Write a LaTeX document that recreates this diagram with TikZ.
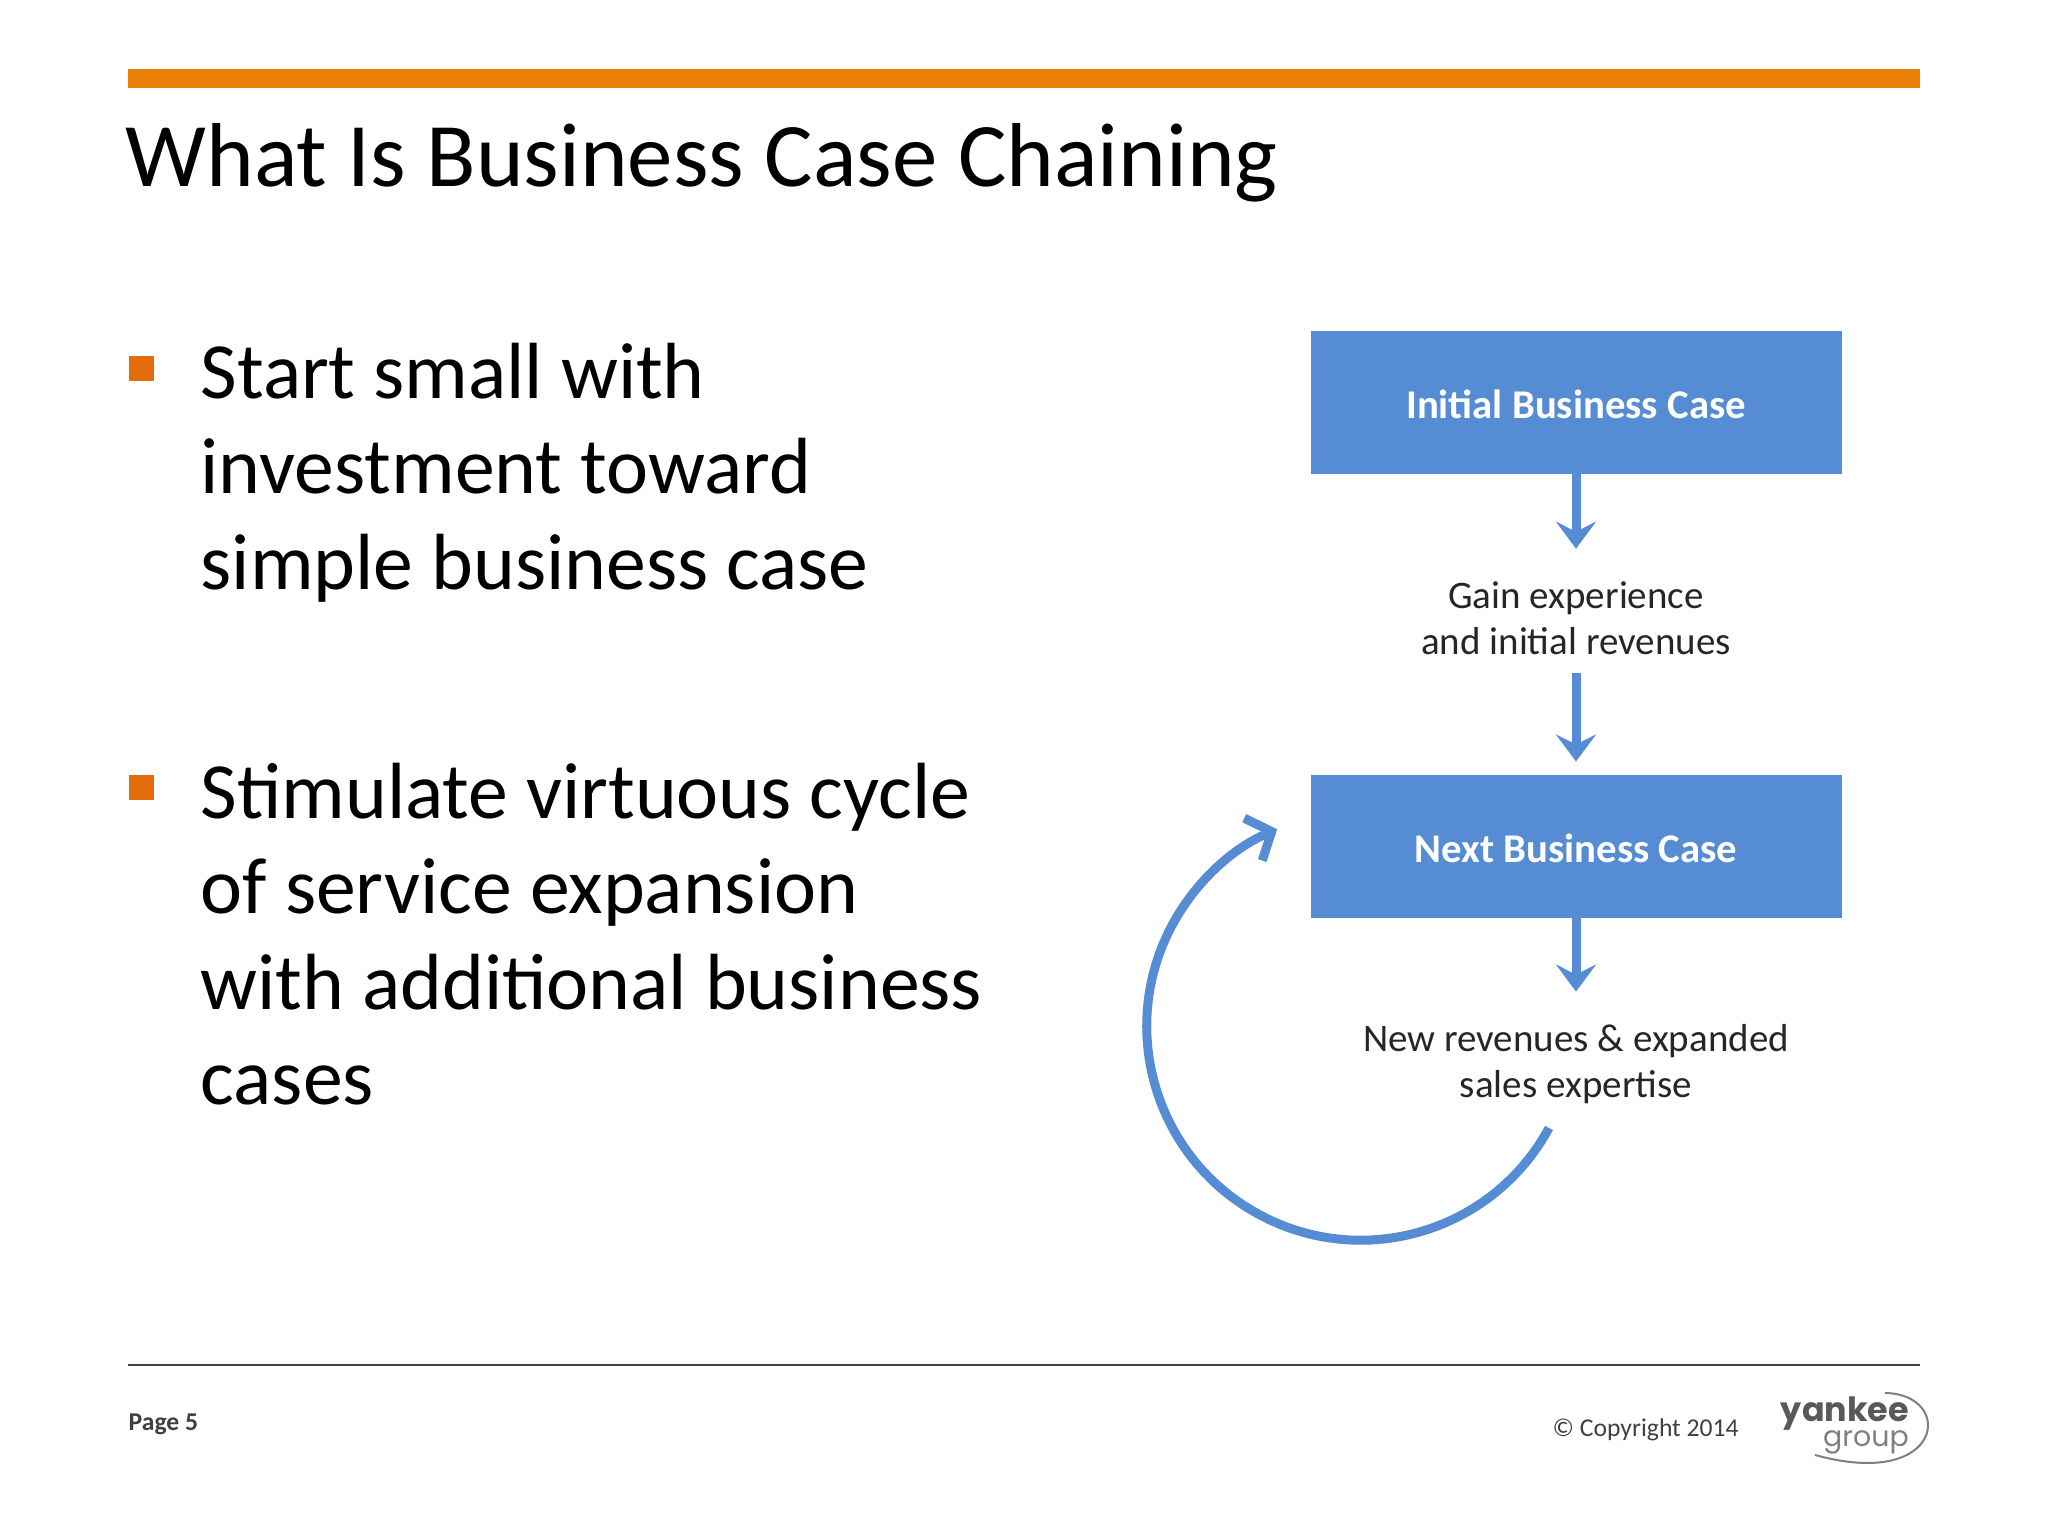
\documentclass[tikz,border=0pt]{standalone}
\usepackage{fontspec}
\setmainfont{Carlito}
\newfontfamily\logofont{Poppins}
\usetikzlibrary{arrows.meta}
\definecolor{barorange}{HTML}{EB7F05}
\definecolor{bulletorange}{HTML}{E36C0A}
\definecolor{caseblue}{HTML}{568CD3}
\definecolor{footgray}{HTML}{404040}
\tikzset{
  casebox/.style={fill=caseblue,outer sep=0pt,minimum width=5.31cm,minimum height=1.43cm,text height=0.32cm,text depth=0cm,text=white,font=\fontsize{11.6}{14}\selectfont\bfseries},
  steplabel/.style={align=center,inner sep=0pt,text=black!85,font=\fontsize{11.1}{13.1}\selectfont},
  bulletbox/.style={fill=bulletorange,minimum size=0.25cm,inner sep=0pt},
  bodytext/.style={anchor=north west,align=left,inner sep=0pt,font=\fontsize{22.67}{27.2}\selectfont},
  flowarrow/.style={draw=caseblue,line width=0.09cm,-{Stealth[length=0.27cm,width=0.40cm,inset=0.10cm]}},
  looparrow/.style={draw=caseblue,line width=0.09cm,-{Straight Barb[length=0.2cm,width=0.46cm]}}
}
\begin{document}
\begin{tikzpicture}
      \useasboundingbox (0,0) rectangle (20.48,15.36);
      \fill[white] (0,0) rectangle (20.48,15.36);
      \fill[barorange] (1.28,14.48) rectangle (19.20,14.67);
      \node[anchor=base west,inner sep=0pt,font=\fontsize{25.85}{30}\selectfont] (title) at (1.25,13.49) {What Is Business Case Chaining};
      % bullets
      \node[bulletbox] (bulletone) at (1.415,11.67) {};
      \node[bodytext] (bodyone) at (2.00,11.94) {Start small with\\investment toward\\simple business case};
      \node[bulletbox] (bullettwo) at (1.415,7.48) {};
      \node[bodytext] (bodytwo) at (2.00,7.74) {Stimulate virtuous cycle\\of service expansion\\with additional business\\cases};
      % flow
      \node[casebox] (initial) at (15.76,11.33) {Initial Business Case};
      \node[steplabel] (gain) at (15.76,9.18) {Gain experience\\and initial revenues};
      \node[casebox] (next) at (15.76,6.89) {Next Business Case};
      \node[steplabel] (newrev) at (15.76,4.72) {New revenues \& expanded\\sales expertise};
      \draw[flowarrow,shorten >=0.32cm] (initial) -- (gain);
      \draw[flowarrow,shorten >=0.14cm,shorten <=0.18cm] (gain) -- (next);
      \draw[flowarrow,shorten >=0.32cm] (next) -- (newrev);
      \coordinate (loopstart) at (15.49,4.08);
      \draw[looparrow] (loopstart) arc[start angle=-28.4,end angle=-247,radius=2.14cm];
      % footer
      \coordinate (footleft) at (1.28,1.71);
      \coordinate (footright) at (19.20,1.71);
      \draw[footgray,line width=0.025cm] (footleft) -- (footright);
      \node[anchor=base west,inner sep=0pt,text=footgray,font=\fontsize{7.3}{9}\selectfont\bfseries] (page) at (1.28,1.05) {Page 5};
      \node[anchor=base west,inner sep=0pt,text=footgray,font=\fontsize{7.3}{9}\selectfont] (copyright) at (15.52,0.99) {© Copyright 2014};
      \node[inner sep=0pt,text height=0.2cm,text depth=0cm,text=black!65,font=\logofont\fontsize{9.5}{10}\selectfont\bfseries] (yankee) at (18.45,1.24) {yankee};
      \node[inner sep=0pt,text height=0.12cm,text depth=0.05cm,text=black!50,font=\logofont\fontsize{8.1}{9}\selectfont] (group) at (18.66,0.93) {group};
      \draw[black!50,line width=0.02cm] (18.85,1.43) .. controls (19.55,1.42) and (19.45,0.45) .. (18.15,0.81);
\end{tikzpicture}
\end{document}
